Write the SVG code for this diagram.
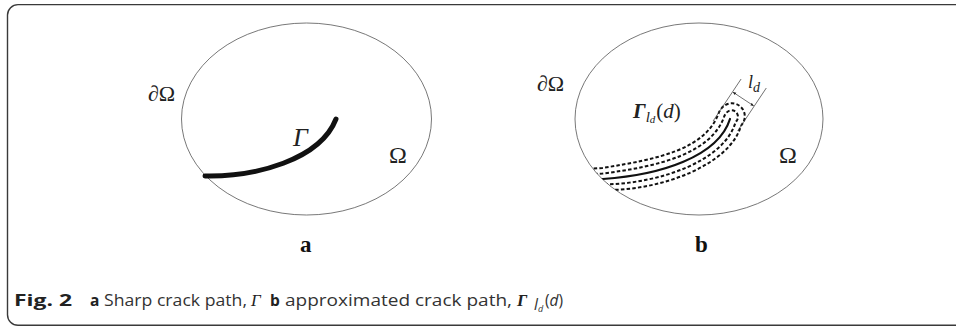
<svg xmlns="http://www.w3.org/2000/svg" width="956" height="328" viewBox="0 0 956 328">
<style>
.frame{fill:none;stroke:#3a3a3a;stroke-width:1.4}
.dom{fill:none;stroke:#555;stroke-width:0.8}
.math{font-family:"Liberation Serif","DejaVu Serif",serif;fill:#222}
.it{font-style:italic}
.crack{fill:none;stroke:#111;stroke-linecap:round}
.dash{fill:none;stroke:#111;stroke-width:2;stroke-dasharray:3.5,2.2}
.thin{fill:none;stroke:#333;stroke-width:0.7}
.lbl{font-family:"Liberation Serif","DejaVu Serif",serif;font-weight:bold;font-size:23px;fill:#111}
.cap{font-family:"Open Sans","Noto Sans",sans-serif;font-size:15.5px;fill:#333}
.b{font-weight:bold;fill:#222}
</style>
<defs>
<marker id="ah" viewBox="0 0 10 10" refX="9" refY="5" markerWidth="5" markerHeight="5" orient="auto-start-reverse">
<path d="M0,1 L10,5 L0,9 z" fill="#222"/>
</marker>
<clipPath id="clipB"><ellipse cx="699" cy="119" rx="124" ry="96"/></clipPath>
</defs>
<path class="frame" d="M956,4.6 H18 A10.5,10.5 0 0 0 7.5,15.1 V314.8 A10.5,10.5 0 0 0 18,325.3 H956"/>

<g id="panel-a">
<ellipse class="dom" cx="306.5" cy="119" rx="125" ry="96"/>
<path class="crack" stroke-width="5" d="M205,176 C255,177 320,160 336,119"/>
<text class="math" x="148" y="101" font-size="22">∂Ω</text>
<text class="math it" x="293" y="146" font-size="26">Γ</text>
<text class="math" x="389" y="163" font-size="24">Ω</text>
<text class="lbl" x="300" y="252">a</text>
</g>

<g id="panel-b">
<ellipse class="dom" cx="699" cy="119" rx="124" ry="96"/>
<g clip-path="url(#clipB)">
<path class="crack" stroke-width="2.2" stroke-linecap="butt" d="M583,180.4 L603,179 C660,175 718,157 730,119"/>
<path class="dash" d="M582.7,174.9 L602.6,173.5 C659.4,166.5 712.2,153.1 724.6,115.4 L726.3,112.9 A6.5,6.5 0 0 1 737.1,120.1 L735.4,122.6 C723.8,160.9 660.6,183.5 603.4,184.5 L583.5,185.9"/>
<path class="dash" d="M582.3,169.4 L602.2,168 C658.9,159 706.4,149.2 719.2,111.8 L721.4,108.5 A13,13 0 0 1 743,122.9 L740.8,126.2 C729.6,164.8 661.1,191 603.8,190 L583.9,191.4"/>
</g>
<line class="thin" x1="713.1" y1="121" x2="741.1" y2="79"/>
<line class="thin" x1="737.6" y1="131" x2="766.3" y2="88"/>
<line class="thin" x1="733" y1="92.2" x2="753.6" y2="105.8" marker-start="url(#ah)" marker-end="url(#ah)"/>
<text class="math" x="748" y="88" font-size="18"><tspan class="it">l</tspan><tspan class="it" font-size="14" dy="4">d</tspan></text>
<text class="math" x="537" y="91" font-size="22">∂Ω</text>
<text class="math" x="633" y="118" font-size="21"><tspan class="it" font-weight="bold">Γ</tspan><tspan class="it" font-size="15" dy="3.5">l</tspan><tspan class="it" font-size="11" dy="1">d</tspan><tspan dx="1" dy="-4.5">(</tspan><tspan class="it">d</tspan><tspan>)</tspan></text>
<text class="math" x="779" y="163" font-size="24">Ω</text>
<text class="lbl" x="695" y="252">b</text>
</g>

<g id="caption">
<text class="cap b" x="14" y="306" textLength="58" lengthAdjust="spacingAndGlyphs">Fig. 2</text>
<text class="cap b" x="90" y="306">a</text>
<text class="cap" x="104" y="306" textLength="143" lengthAdjust="spacingAndGlyphs">Sharp crack path,</text>
<text class="math it" x="251" y="306" font-size="17">Γ</text>
<text class="cap b" x="270" y="306">b</text>
<text class="cap" x="285" y="306" textLength="227" lengthAdjust="spacingAndGlyphs">approximated crack path,</text>
<text class="math it" x="517" y="306" font-size="17" font-weight="bold">Γ</text>
<text class="cap" x="534" y="310" font-size="11"><tspan font-style="italic">l</tspan><tspan font-style="italic" font-size="9" dy="1.5">d</tspan></text>
<text class="cap" x="545" y="306">(<tspan font-style="italic">d</tspan>)</text>
</g>
</svg>
